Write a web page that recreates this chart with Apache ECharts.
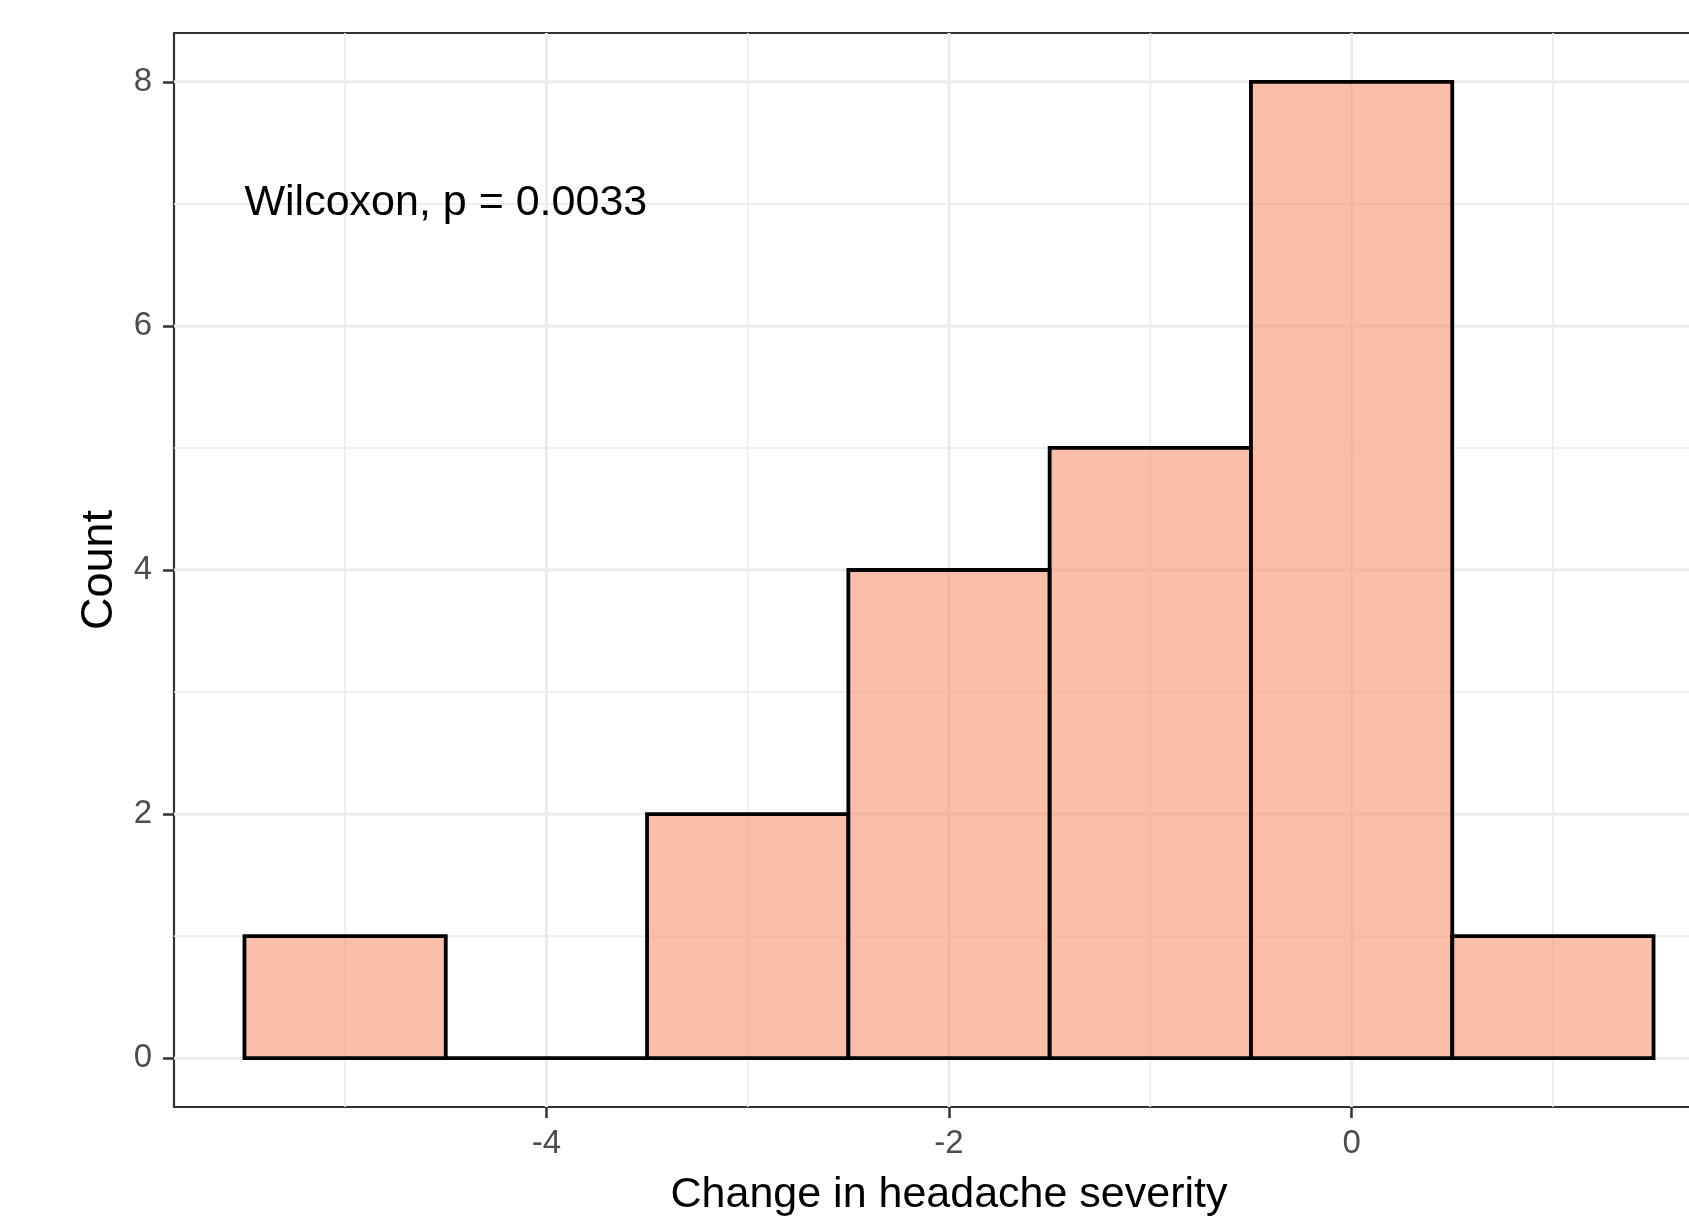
<!DOCTYPE html>
<html>
<head>
<meta charset="utf-8">
<title>Change in headache severity</title>
<script src="https://cdn.jsdelivr.net/npm/echarts@6/dist/echarts.min.js"></script>
<style>
  html, body { margin: 0; padding: 0; background: #ffffff; overflow: hidden; width: 1689px; height: 1219px; }
  /* the drawing surface is wider than the window: the panel runs past its right edge */
  #chart { width: 1780px; height: 1219px; }
</style>
</head>
<body>
<div id="chart"></div>
<script>
// Histogram of the change in headache severity (bin width 1, centred on integers)
const binCenters = [-5, -4, -3, -2, -1, 0, 1];
const counts = [1, 0, 2, 4, 5, 8, 1];
const binWidth = 1;

// Axis breaks
const xMajor = [-4, -2, 0];
const xMinor = [-5, -3, -1, 1];
const yMajor = [0, 2, 4, 6, 8];
const yMinor = [1, 3, 5, 7];

// Panel limits (data range plus 5% padding on each side)
const xLimits = [-5.85, 1.85];
const yLimits = [-0.4, 8.4];

// Test result printed in the panel
const testLabel = 'Wilcoxon, p = 0.0033';
const testLabelAt = [-5.5, 7];

const FONT = '"Liberation Sans", Arial, Helvetica, sans-serif';

const gridLines = []
  .concat(xMajor.map(v => [v, 1, 0]))
  .concat(xMinor.map(v => [v, 0, 0]))
  .concat(yMajor.map(v => [v, 1, 1]))
  .concat(yMinor.map(v => [v, 0, 1]));

const chart = echarts.init(document.getElementById('chart'), null, { renderer: 'canvas' });

chart.setOption({
  backgroundColor: '#ffffff',
  animation: false,
  grid: {
    left: 174, top: 33, width: 1550, height: 1074,
    outerBoundsMode: 'none', containLabel: false,
    show: true, borderColor: '#333333', borderWidth: 2.2, backgroundColor: 'transparent'
  },
  xAxis: {
    type: 'value', min: xLimits[0], max: xLimits[1],
    name: 'Change in headache severity', nameLocation: 'middle', nameGap: 67,
    nameTextStyle: { fontFamily: FONT, fontSize: 43, color: '#000000' },
    axisLine: { show: false, onZero: false },
    axisTick: { show: true, length: 11, customValues: xMajor,
      lineStyle: { color: '#333333', width: 2.5 } },
    axisLabel: { show: true, margin: 20, customValues: xMajor,
      fontFamily: FONT, fontSize: 33, color: '#4D4D4D',
      formatter: v => String(v) },
    splitLine: { show: false }
  },
  yAxis: {
    type: 'value', min: yLimits[0], max: yLimits[1],
    name: 'Count', nameLocation: 'middle', nameGap: 52, nameRotate: 90,
    nameTextStyle: { fontFamily: FONT, fontSize: 45, color: '#000000' },
    axisLine: { show: false, onZero: false },
    axisTick: { show: true, length: 11, customValues: yMajor,
      lineStyle: { color: '#333333', width: 2.5 } },
    axisLabel: { show: true, margin: 22, customValues: yMajor,
      fontFamily: FONT, fontSize: 33, color: '#4D4D4D',
      formatter: v => String(v) },
    splitLine: { show: false }
  },
  series: [
    {
      // panel grid lines
      type: 'custom', z: 1, silent: true,
      data: gridLines,
      encode: { x: -1, y: -1 },
      renderItem: function (params, api) {
        const v = api.value(0), major = api.value(1), horiz = api.value(2);
        let a, b;
        if (horiz) {
          a = api.coord([xLimits[0], v]); b = api.coord([xLimits[1], v]);
        } else {
          a = api.coord([v, yLimits[0]]); b = api.coord([v, yLimits[1]]);
        }
        return {
          type: 'line',
          shape: { x1: a[0], y1: a[1], x2: b[0], y2: b[1] },
          style: { stroke: '#EBEBEB', lineWidth: major ? 3 : 1.6 }
        };
      }
    },
    {
      // histogram bins
      type: 'custom', z: 3, silent: true,
      data: binCenters.map((c, i) => [c, counts[i]]),
      encode: { x: 0, y: 1 },
      renderItem: function (params, api) {
        const c = api.value(0), n = api.value(1);
        const p0 = api.coord([c - binWidth / 2, 0]);
        const p1 = api.coord([c + binWidth / 2, n]);
        return {
          type: 'rect',
          shape: { x: p0[0], y: p1[1], width: p1[0] - p0[0], height: p0[1] - p1[1] },
          style: { fill: 'rgba(248,150,115,0.62)', stroke: '#000000', lineWidth: 3.8, lineJoin: 'miter' }
        };
      }
    },
    {
      // test annotation
      type: 'custom', z: 4, silent: true,
      data: [testLabelAt],
      encode: { x: 0, y: 1 },
      renderItem: function (params, api) {
        const p = api.coord([api.value(0), api.value(1)]);
        return {
          type: 'text', x: p[0], y: p[1] - 1,
          style: { text: testLabel, fontFamily: FONT, fontSize: 43, fill: '#000000',
            align: 'left', verticalAlign: 'middle' }
        };
      }
    }
  ]
});
</script>
</body>
</html>
